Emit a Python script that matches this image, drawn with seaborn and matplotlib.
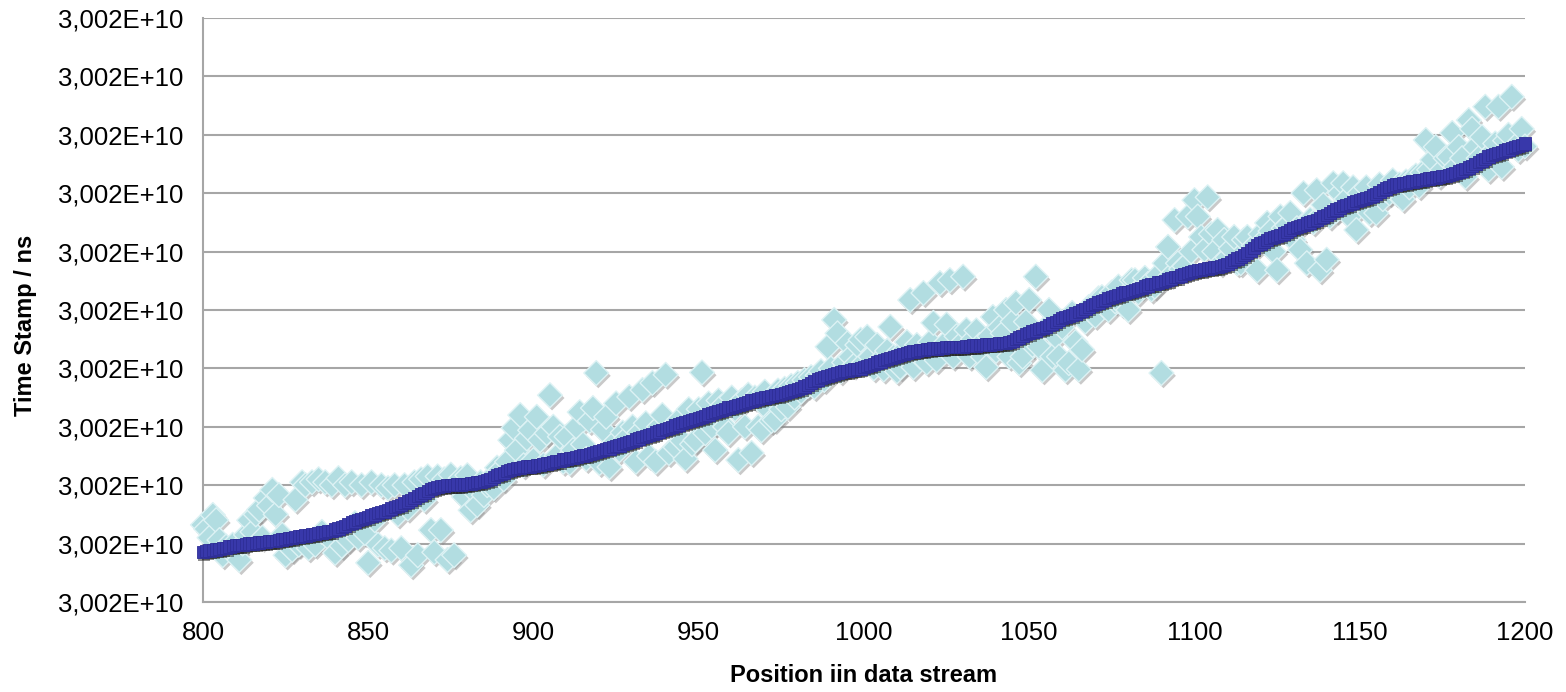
import matplotlib
matplotlib.use("Agg")
import matplotlib.pyplot as plt
import matplotlib.patheffects as pe
from matplotlib.ticker import FuncFormatter
import pandas as pd
import seaborn as sns

# time stamps are 3,002E+10 ns plus an offset, offsets given in microseconds
base_ns = 3.002e10

position = list(range(800, 1201))

# sorted time stamps (dark blue squares), offset in us
sorted_us = [
    86, 87, 88, 89, 90, 91, 92, 93, 95, 96,
    97, 98, 98, 99, 100, 100, 101, 102, 103, 103,
    104, 105, 105, 106, 107, 108, 109, 110, 111, 112,
    113, 114, 115, 116, 117, 118, 119, 120, 121, 122,
    124, 126, 128, 130, 133, 136, 138, 140, 142, 144,
    146, 148, 150, 152, 154, 155, 157, 160, 162, 164,
    166, 169, 172, 175, 178, 181, 184, 187, 190, 193,
    195, 197, 198, 199, 200, 200, 200, 201, 201, 202,
    202, 203, 204, 205, 206, 207, 209, 211, 214, 217,
    219, 221, 224, 226, 228, 229, 230, 231, 232, 232,
    233, 234, 235, 236, 237, 238, 240, 241, 242, 244,
    245, 246, 247, 248, 250, 251, 252, 253, 255, 257,
    258, 260, 262, 263, 265, 267, 268, 270, 272, 274,
    276, 278, 280, 282, 284, 286, 288, 290, 292, 294,
    296, 298, 300, 302, 304, 306, 308, 310, 312, 313,
    315, 317, 319, 321, 323, 325, 327, 329, 331, 333,
    334, 336, 337, 339, 341, 343, 345, 346, 348, 349,
    350, 351, 353, 354, 355, 356, 358, 359, 361, 363,
    365, 367, 369, 372, 375, 378, 381, 383, 385, 387,
    389, 391, 392, 394, 395, 396, 397, 398, 399, 400,
    402, 404, 406, 408, 410, 412, 414, 416, 418, 420,
    421, 423, 425, 426, 428, 429, 430, 431, 432, 433,
    433, 434, 434, 435, 435, 436, 436, 436, 437, 437,
    437, 438, 438, 439, 439, 440, 440, 441, 441, 442,
    442, 443, 443, 444, 445, 447, 450, 453, 456, 459,
    461, 463, 465, 467, 469, 471, 474, 477, 480, 483,
    486, 488, 490, 492, 494, 496, 499, 502, 505, 508,
    510, 513, 515, 517, 520, 522, 524, 526, 528, 530,
    531, 532, 534, 536, 538, 540, 542, 544, 545, 547,
    548, 550, 552, 554, 556, 557, 559, 561, 563, 565,
    567, 568, 569, 570, 571, 572, 573, 574, 575, 577,
    579, 582, 585, 588, 591, 594, 598, 602, 606, 611,
    614, 617, 620, 623, 625, 627, 629, 631, 634, 637,
    640, 642, 644, 646, 648, 650, 652, 654, 657, 660,
    663, 666, 669, 672, 675, 678, 680, 682, 684, 686,
    688, 690, 692, 694, 696, 699, 702, 705, 708, 711,
    713, 715, 716, 717, 718, 719, 720, 721, 722, 723,
    724, 725, 726, 727, 728, 729, 730, 731, 733, 735,
    737, 739, 741, 744, 747, 750, 753, 756, 759, 763,
    765, 767, 769, 771, 773, 775, 777, 779, 781, 783,
    785,
]

# raw time stamps as received (light cyan diamonds), offset in us
raw_us = [
    132, 125, 110, 149, 140, 106, 80, 95, 90, 98,
    85, 72, 100, 115, 140, 120, 150, 158, 110, 178,
    165, 192, 150, 183, 115, 80, 95, 89, 175, 98,
    205, 200, 92, 205, 98, 210, 120, 205, 110, 200,
    84, 212, 96, 200, 106, 205, 135, 110, 200, 118,
    67, 205, 140, 98, 200, 92, 195, 88, 200, 150,
    92, 200, 160, 63, 205, 80, 210, 175, 215, 123,
    85, 215, 123, 210, 72, 218, 80, 195, 212, 180,
    217, 157, 190, 166, 205, 183, 200, 212, 195, 230,
    226, 210, 240, 277, 298, 260, 320, 234, 280, 294,
    243, 317, 277, 235, 289, 354, 300, 250, 283, 240,
    283, 238, 260, 300, 325, 270, 245, 310, 332, 392,
    238, 295, 317, 231, 270, 340, 260, 290, 280, 351,
    300, 240, 290, 363, 306, 250, 375, 240, 300, 320,
    389, 255, 300, 265, 312, 276, 245, 330, 270, 277,
    330, 393, 289, 340, 300, 260, 345, 335, 300, 289,
    350, 330, 243, 345, 300, 355, 255, 350, 300, 294,
    360, 330, 310, 312, 362, 330, 365, 334, 370, 350,
    375, 360, 380, 370, 385, 368, 388, 395, 380, 437,
    400, 483, 460, 395, 410, 443, 420, 405, 440, 449,
    410, 454, 420, 400, 440, 415, 398, 430, 471, 420,
    395, 402, 430, 445, 517, 402, 440, 420, 529, 410,
    445, 478, 414, 546, 440, 475, 551, 420, 455, 440,
    557, 466, 420, 450, 465, 440, 420, 402, 455, 488,
    430, 470, 460, 500, 420, 480, 512, 409, 420, 480,
    517, 440, 557, 437, 397, 470, 500, 420, 455, 420,
    470, 397, 409, 495, 445, 398, 432, 480, 505, 495,
    490, 520, 522, 505, 500, 530, 515, 540, 510, 525,
    500, 551, 551, 530, 540, 555, 545, 535, 540, 560,
    392, 580, 608, 560, 654, 580, 570, 575, 660, 600,
    688, 660, 625, 603, 693, 630, 600, 637, 580, 620,
    590, 605, 625, 580, 580, 620, 625, 600, 610, 568,
    630, 620, 649, 635, 600, 568, 660, 640, 645, 666,
    620, 640, 603, 700, 580, 655, 650, 705, 568, 680,
    586, 660, 717, 670, 700, 717, 690, 660, 710, 637,
    700, 680, 710, 666, 690, 666, 715, 690, 705, 700,
    722, 700, 715, 690, 720, 710, 725, 730, 712, 735,
    791, 740, 757, 779, 730, 740, 760, 762, 803, 745,
    779, 760, 728, 825, 810, 779, 760, 796, 848, 740,
    770, 785, 848, 745, 790, 800, 865, 780, 774, 810,
    780,
]

df = pd.DataFrame({
    "position": position,
    "raw": [base_ns + v * 1000 for v in raw_us],
    "sorted": [base_ns + v * 1000 for v in sorted_us],
})

sns.set_style("white")
plt.rcParams["font.family"] = ["Liberation Sans", "DejaVu Sans"]

fig = plt.figure(figsize=(15.66, 6.92), dpi=100)
ax = fig.add_axes([0.1296, 0.1301, 0.8442, 0.8439])

shadow = [pe.SimplePatchShadow(offset=(1.5, -2), shadow_rgbFace="#888888", alpha=0.45), pe.Normal()]

sns.scatterplot(data=df, x="position", y="raw", marker="D", s=160,
                color="#B2DDE1", edgecolor="#DDF2F4", linewidth=1.0,
                ax=ax, clip_on=False, zorder=3, path_effects=shadow)
sns.scatterplot(data=df, x="position", y="sorted", marker="s", s=78,
                color="#3838AA", edgecolor="#2E2E96", linewidth=0.6,
                ax=ax, clip_on=False, zorder=4,
                path_effects=[pe.SimplePatchShadow(offset=(1, -2), shadow_rgbFace="#222222", alpha=0.5), pe.Normal()])

ax.set_xlim(800, 1200)
ax.set_ylim(base_ns, base_ns + 1.0e6)
ax.set_xticks([800, 850, 900, 950, 1000, 1050, 1100, 1150, 1200])
ax.set_yticks([base_ns + k * 1.0e5 for k in range(11)])
ax.yaxis.set_major_formatter(FuncFormatter(lambda v, _: f"{v:.3E}".replace(".", ",")))

ax.grid(axis="y", color="#A6A6A6", linewidth=1.5, zorder=0)
ax.set_axisbelow(True)
for side in ["top", "right"]:
    ax.spines[side].set_visible(False)
for side in ["left", "bottom"]:
    ax.spines[side].set_color("#A6A6A6")
    ax.spines[side].set_linewidth(1.5)
ax.tick_params(axis="both", direction="inout", length=12, width=1.5, color="#A6A6A6",
               labelsize=18.5, labelcolor="black")
ax.tick_params(axis="y", pad=8)
ax.tick_params(axis="x", pad=8)

ax.set_xlabel("")
ax.set_ylabel("")
fig.text(864 / 1566, 1 - 675 / 692, "Position iin data stream", ha="center", va="center",
         fontsize=17, fontweight="bold", color="black")
fig.text(26 / 1566, 1 - 325 / 692, "Time Stamp / ns", ha="center", va="center",
         rotation=90, fontsize=17, fontweight="bold", color="black")

fig.savefig("out.png", dpi=100)
